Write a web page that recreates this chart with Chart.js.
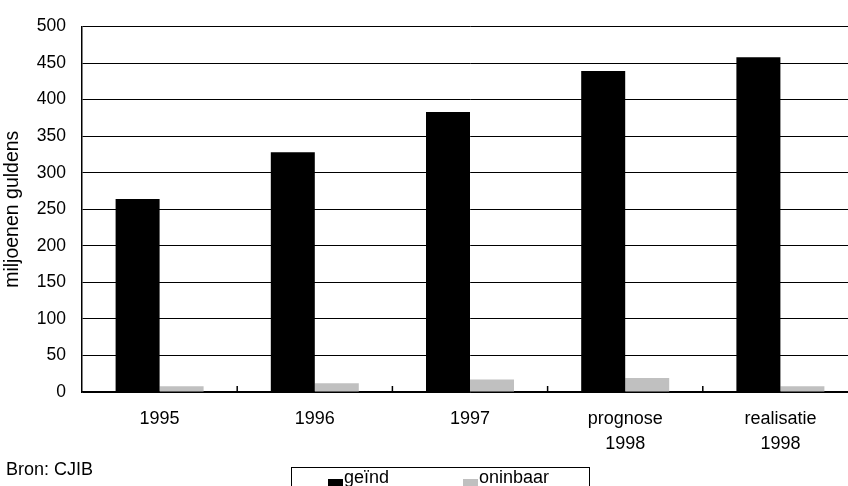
<!DOCTYPE html>
<html>
<head>
<meta charset="utf-8">
<script src="https://cdn.jsdelivr.net/npm/chart.js@4.4.1/dist/chart.umd.min.js"></script>
<style>
  html, body { margin: 0; padding: 0; background: #fff; overflow: hidden; }
  body { width: 848px; height: 486px; position: relative; font-family: "Liberation Sans", Arial, Helvetica, sans-serif; color: #000; }
  #wrap { position: absolute; left: 0; top: 0; width: 860px; height: 486px; }
  #source { position: absolute; left: 6px; top: 461px; font-size: 18px; line-height: 17px; white-space: nowrap; }
  #legend { position: absolute; left: 291px; top: 467px; width: 299px; height: 40px; border: 1px solid #000; box-sizing: border-box; }
  .lg-item { position: absolute; top: 0; font-size: 18px; line-height: 17px; white-space: nowrap; }
  .lg-sw { position: absolute; width: 15px; height: 15px; }
</style>
</head>
<body>
<div id="wrap"><canvas id="c" width="860" height="486"></canvas></div>
<div id="source">Bron: CJIB</div>
<div id="legend"></div>
<script>
const categories = [["1995"], ["1996"], ["1997"], ["prognose", "1998"], ["realisatie", "1998"]];
const seriesNames = ["geïnd", "oninbaar"];
const geindValues = [264, 328, 383, 439, 458];
const oninbaarValues = [8, 12, 17, 19, 8];
const seriesColors = ["#000000", "#c0c0c0"];
const yTicks = [0, 50, 100, 150, 200, 250, 300, 350, 400, 450, 500];
const yTitle = "miljoenen guldens";
const sourceText = "Bron: CJIB";

const FONT = '"Liberation Sans", Arial, Helvetica, sans-serif';

const innerTicks = {
  id: 'innerTicks',
  afterDatasetsDraw(chart) {
    const xs = chart.scales.x;
    const ctx = chart.ctx;
    const bottom = chart.chartArea.bottom;
    ctx.save();
    ctx.strokeStyle = '#000';
    ctx.lineWidth = 1.5;
    for (let i = 1; i < categories.length; i++) {
      const x = (xs.getPixelForTick(i - 1) + xs.getPixelForTick(i)) / 2;
      ctx.beginPath();
      ctx.moveTo(x, bottom - 6);
      ctx.lineTo(x, bottom);
      ctx.stroke();
    }
    ctx.restore();
  }
};

const chart = new Chart(document.getElementById('c'), {
  type: 'bar',
  data: {
    labels: categories,
    datasets: [
      { label: seriesNames[0], data: geindValues, backgroundColor: seriesColors[0], borderWidth: 0 },
      { label: seriesNames[1], data: oninbaarValues, backgroundColor: seriesColors[1], borderWidth: 0 }
    ]
  },
  options: {
    responsive: false,
    animation: false,
    devicePixelRatio: 1,
    categoryPercentage: 0.567,
    barPercentage: 1.0,
    layout: { padding: { top: 25, right: 2, bottom: 0, left: 0 } },
    plugins: { legend: { display: false }, tooltip: { enabled: false } },
    scales: {
      x: {
        grid: { display: false, drawTicks: false },
        border: { display: true, color: '#000', width: 1.5 },
        ticks: { color: '#000', font: { family: FONT, size: 18, lineHeight: 1.38 }, padding: 15, maxRotation: 0, autoSkip: false },
        afterFit(scale) { scale.height = 94; }
      },
      y: {
        min: 0, max: 500,
        afterBuildTicks(scale) { scale.ticks = yTicks.map(v => ({ value: v })); },
        grid: { color: '#000', lineWidth: 1, drawTicks: false },
        border: { display: true, color: '#000', width: 1.5 },
        ticks: { color: '#000', font: { family: FONT, size: 17.5 }, padding: 16 },
        title: { display: true, text: yTitle, color: '#000', font: { family: FONT, size: 19.5 }, padding: { top: 1, bottom: 0 } },
        afterFit(scale) { scale.width = 82; }
      }
    }
  },
  plugins: [innerTicks]
});

document.getElementById('source').textContent = sourceText;
const legend = document.getElementById('legend');
const swX = [36, 171];
seriesNames.forEach((name, i) => {
  const sw = document.createElement('div');
  sw.className = 'lg-sw';
  sw.style.left = swX[i] + 'px';
  sw.style.top = '11px';
  sw.style.background = seriesColors[i];
  legend.appendChild(sw);
  const t = document.createElement('div');
  t.className = 'lg-item';
  t.style.left = (swX[i] + 16) + 'px';
  t.style.top = '1px';
  t.textContent = name;
  legend.appendChild(t);
});
</script>
</body>
</html>
